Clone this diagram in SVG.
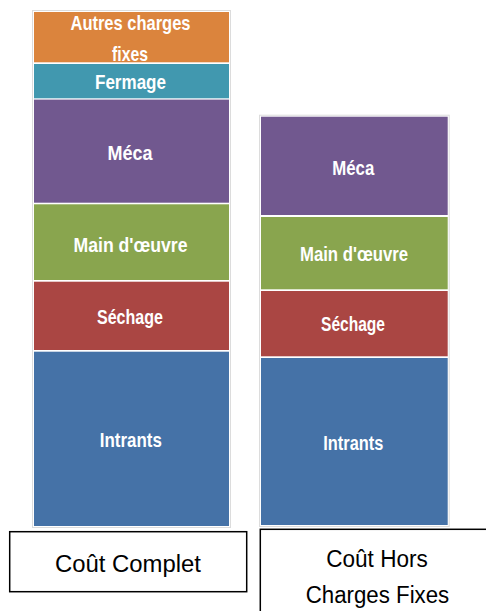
<svg xmlns="http://www.w3.org/2000/svg" width="486" height="611" viewBox="0 0 486 611">
  <style>
    .seg-label { font-family: "Liberation Sans", Arial, sans-serif; font-weight: bold; fill: #ffffff; text-anchor: middle; }
    .l { font-size: 21px; }
    .r { font-size: 20px; }
    .cap { font-family: "Liberation Sans", Arial, sans-serif; font-size: 23px; fill: #000000; text-anchor: middle; }
    .box { fill: #ffffff; stroke: #000000; stroke-width: 1.5; }
    .shadow { fill: none; stroke: #dcdcdc; stroke-width: 1; }
    .orange { fill: #DB843D; }
    .teal { fill: #4198AF; }
    .purple { fill: #71588F; }
    .green { fill: #89A54E; }
    .red { fill: #AA4643; }
    .blue { fill: #4572A7; }
  </style>
  <rect width="486" height="611" fill="#ffffff"/>

  <!-- Left column: Coût Complet -->
  <g id="col-complet">
    <rect class="shadow" x="32.5" y="10.5" width="198" height="517"/>
    <g id="c-autres">
      <rect class="orange" x="34" y="12" width="195" height="50.3"/>
      <text class="seg-label l" x="130.5" y="30" textLength="120" lengthAdjust="spacingAndGlyphs">Autres charges</text>
      <text class="seg-label l" x="130" y="60.5" textLength="36" lengthAdjust="spacingAndGlyphs">fixes</text>
    </g>
    <g id="c-fermage">
      <rect class="teal" x="34" y="64" width="195" height="34.3"/>
      <text class="seg-label l" x="130.5" y="89" textLength="71" lengthAdjust="spacingAndGlyphs">Fermage</text>
    </g>
    <g id="c-meca">
      <rect class="purple" x="34" y="99.6" width="195" height="103.1"/>
      <text class="seg-label l" x="130" y="160" textLength="45" lengthAdjust="spacingAndGlyphs">Méca</text>
    </g>
    <g id="c-main">
      <rect class="green" x="34" y="204.3" width="195" height="75.7"/>
      <text class="seg-label l" x="130.5" y="251.5" textLength="114" lengthAdjust="spacingAndGlyphs">Main d'œuvre</text>
    </g>
    <g id="c-sechage">
      <rect class="red" x="34" y="281.7" width="195" height="68.3"/>
      <text class="seg-label l" x="130" y="324.3" textLength="66" lengthAdjust="spacingAndGlyphs">Séchage</text>
    </g>
    <g id="c-intrants">
      <rect class="blue" x="34" y="351.7" width="195" height="174.3"/>
      <text class="seg-label l" x="130.8" y="447.3" textLength="62" lengthAdjust="spacingAndGlyphs">Intrants</text>
    </g>
  </g>

  <!-- Right column: Coût Hors Charges Fixes -->
  <g id="col-hcf">
    <rect class="shadow" x="259.5" y="115.2" width="189.7" height="411.3"/>
    <g id="h-meca">
      <rect class="purple" x="261" y="116.7" width="186.7" height="98.3"/>
      <text class="seg-label r" x="353.3" y="175" textLength="42" lengthAdjust="spacingAndGlyphs">Méca</text>
    </g>
    <g id="h-main">
      <rect class="green" x="261" y="217" width="186.7" height="72.3"/>
      <text class="seg-label r" x="354" y="261" textLength="108" lengthAdjust="spacingAndGlyphs">Main d'œuvre</text>
    </g>
    <g id="h-sechage">
      <rect class="red" x="261" y="291" width="186.7" height="65.3"/>
      <text class="seg-label r" x="353" y="331" textLength="64" lengthAdjust="spacingAndGlyphs">Séchage</text>
    </g>
    <g id="h-intrants">
      <rect class="blue" x="261" y="358" width="186.7" height="167"/>
      <text class="seg-label r" x="353.3" y="450" textLength="60" lengthAdjust="spacingAndGlyphs">Intrants</text>
    </g>
  </g>

  <!-- Caption boxes -->
  <g id="label-complet">
    <rect class="box" x="9.7" y="531.7" width="237" height="60"/>
    <text class="cap" x="128" y="571.5" textLength="146" lengthAdjust="spacingAndGlyphs">Coût Complet</text>
  </g>
  <g id="label-hcf">
    <rect class="box" x="260.3" y="529.3" width="240" height="100"/>
    <text class="cap" x="377" y="566.7" textLength="101.5" lengthAdjust="spacingAndGlyphs">Coût Hors</text>
    <text class="cap" x="377.5" y="603.3" textLength="143.5" lengthAdjust="spacingAndGlyphs">Charges Fixes</text>
  </g>
</svg>
